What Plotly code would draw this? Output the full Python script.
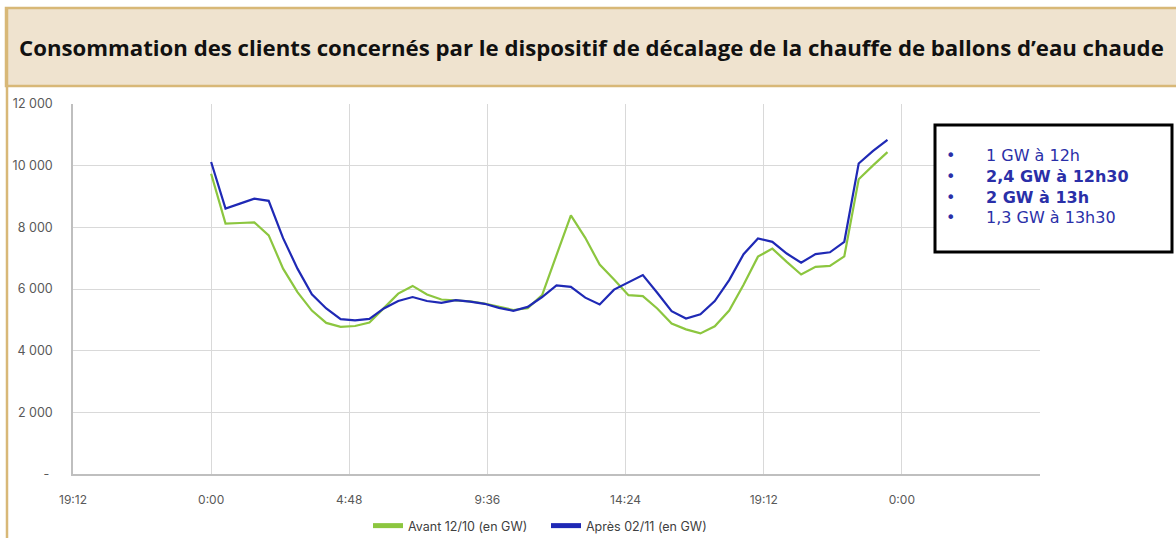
import plotly.graph_objects as go

# ---- data ----
times = ["0:00","0:30","1:00","1:30","2:00","2:30","3:00","3:30","4:00","4:30",
         "5:00","5:30","6:00","6:30","7:00","7:30","8:00","8:30","9:00","9:30",
         "10:00","10:30","11:00","11:30","12:00","12:30","13:00","13:30","14:00","14:30",
         "15:00","15:30","16:00","16:30","17:00","17:30","18:00","18:30","19:00","19:30",
         "20:00","20:30","21:00","21:30","22:00","22:30","23:00","23:30"]

avant = [9740, 8120, 8140, 8160, 7740, 6660, 5900, 5300, 4900, 4770,
         4800, 4910, 5380, 5850, 6100, 5820, 5660, 5620, 5600, 5530,
         5420, 5320, 5380, 5800, 7100, 8390, 7660, 6790, 6310, 5800,
         5770, 5370, 4880, 4690, 4560, 4790, 5300, 6140, 7050, 7310,
         6880, 6470, 6720, 6750, 7060, 9560, 10010, 10440]

apres = [10120, 8610, 8770, 8930, 8860, 7650, 6660, 5830, 5370, 5020,
         4980, 5030, 5370, 5610, 5740, 5610, 5550, 5640, 5590, 5520,
         5390, 5290, 5420, 5740, 6120, 6070, 5720, 5500, 5980, 6210,
         6450, 5880, 5280, 5040, 5180, 5610, 6290, 7130, 7640, 7530,
         7150, 6850, 7130, 7190, 7530, 10070, 10480, 10840]

x_tick_hours = [-4.8, 0, 4.8, 9.6, 14.4, 19.2, 24]
x_tick_labels = ["19:12", "0:00", "4:48", "9:36", "14:24", "19:12", "0:00"]
y_tick_vals = [0, 2000, 4000, 6000, 8000, 10000, 12000]
y_tick_labels = ["-\u00a0", "2 000", "4 000", "6 000", "8 000", "10 000", "12 000"]

title_text = "Consommation des clients concernés par le dispositif de décalage de la chauffe de ballons d’eau chaude"
box_lines = ["1 GW à 12h", "<b>2,4 GW à 12h30</b>", "<b>2 GW à 13h</b>", "1,3 GW à 13h30"]

def to_hours(t):
    h, m = t.split(":")
    return int(h) + int(m) / 60.0

hours = [to_hours(t) for t in times]

# ---- layout geometry (pixels) ----
W, H = 1176, 538
L, R, T, B = 73, 1040, 104, 474

def px(xp):
    return (xp - L) / (R - L)

def py(yp):
    return (B - yp) / (B - T)

GREEN = "#8CC63F"
BLUE = "#1F29B5"
TICK = "#595959"
BOXTXT = "#2A2FA8"

fig = go.Figure()
fig.add_trace(go.Scatter(x=hours, y=avant, mode="lines", name="Avant 12/10 (en GW)",
                         line=dict(color=GREEN, width=2.2)))
fig.add_trace(go.Scatter(x=hours, y=apres, mode="lines", name="Après 02/11 (en GW)",
                         line=dict(color=BLUE, width=2.2)))

shapes = []
shapes.append(dict(type="line", xref="paper", yref="paper", x0=px(7), x1=px(7), y0=py(8), y1=py(545),
                   line=dict(color="#D8B877", width=2.5), layer="above"))
shapes.append(dict(type="rect", xref="paper", yref="paper", x0=px(6), x1=px(1190), y0=py(86), y1=py(8),
                   fillcolor="#EFE3CF", line=dict(color="#D8B877", width=2.5), layer="below"))
shapes.append(dict(type="rect", xref="paper", yref="paper", x0=px(935), x1=px(1172), y0=py(252), y1=py(125),
                   fillcolor="white", line=dict(color="black", width=3), layer="above"))

annotations = [dict(text="<b>" + title_text + "</b>", xref="paper", yref="paper",
                    x=px(591), y=py(47), xanchor="center", yanchor="middle", showarrow=False,
                    font=dict(family="Open Sans", size=22.2, color="#111111"))]
block_center = 186
annotations.append(dict(text="<br>".join(["•"] * len(box_lines)), xref="paper", yref="paper",
                        x=px(950), y=py(block_center), xanchor="center", yanchor="middle",
                        showarrow=False, align="center",
                        font=dict(family="DejaVu Sans", size=16, color=BOXTXT)))
annotations.append(dict(text="<br>".join(box_lines), xref="paper", yref="paper",
                        x=px(984), y=py(block_center), xanchor="left", yanchor="middle",
                        showarrow=False, align="left",
                        font=dict(family="DejaVu Sans", size=16, color=BOXTXT)))

fig.update_layout(
    width=W, height=H, autosize=False,
    margin=dict(l=L, r=W - R, t=T, b=H - B, pad=0, autoexpand=False),
    paper_bgcolor="white", plot_bgcolor="white",
    showlegend=True,
    legend=dict(orientation="h", x=px(546), y=py(526), xanchor="center", yanchor="middle",
                font=dict(family="Inter", size=12.5, color="#404040"), itemwidth=30,
                entrywidthmode="pixels", entrywidth=133,
                tracegroupgap=0, itemsizing="constant", bgcolor="rgba(0,0,0,0)"),
    shapes=shapes,
    annotations=annotations,
    font=dict(family="Inter", color=TICK),
)
fig.update_xaxes(range=[-4.8, 28.8], tickvals=x_tick_hours, ticktext=x_tick_labels,
                 showgrid=True, gridcolor="#D9D9D9", gridwidth=1,
                 showline=True, linecolor="#BFBFBF", linewidth=1.5,
                 zeroline=False, ticks="", ticklabelstandoff=14, automargin=False,
                 tickfont=dict(family="Inter", size=12, color=TICK))
fig.update_yaxes(range=[0, 12000], tickvals=y_tick_vals, ticktext=y_tick_labels,
                 showgrid=True, gridcolor="#D9D9D9", gridwidth=1,
                 showline=True, linecolor="#BFBFBF", linewidth=1.5,
                 zeroline=False, ticks="", ticklabelstandoff=16, automargin=False,
                 tickfont=dict(family="Inter", size=12.5, color=TICK))

fig.write_html("out.html",
               config={"responsive": False, "displayModeBar": False},
               post_script="document.body.style.margin='0';document.body.style.overflow='hidden';")
